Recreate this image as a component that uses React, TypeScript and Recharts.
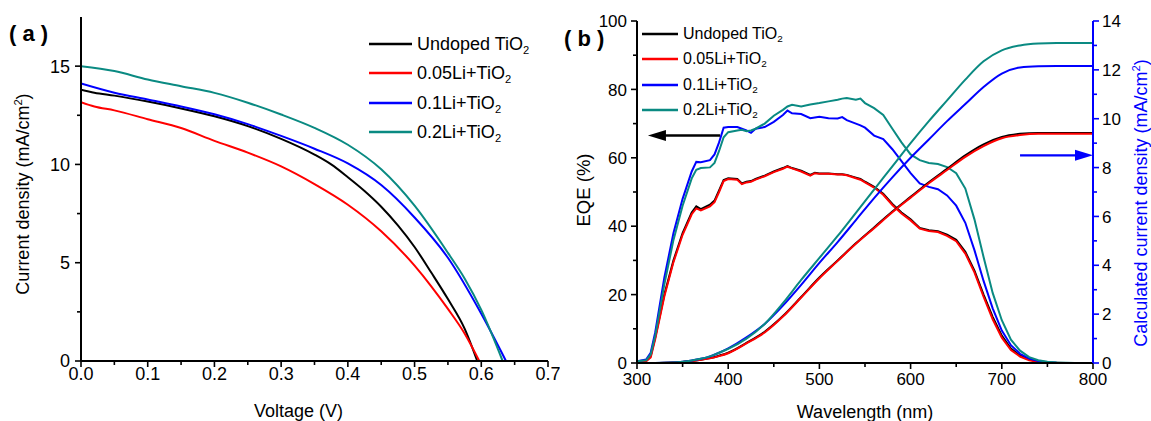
import React from "react";
import { LineChart, Line, XAxis, YAxis, Legend, ReferenceLine } from "recharts";

const FONT = '"Liberation Sans", Arial, Helvetica, sans-serif';

const SERIES = ["Undoped TiO2", "0.05Li+TiO2", "0.1Li+TiO2", "0.2Li+TiO2"];
const COLORS = ["#000000", "#ff0000", "#0000ff", "#0a8a82"];

// (a) J-V curves
const V_UNDOPED = [0, 0.02, 0.05, 0.1, 0.15, 0.2, 0.25, 0.3, 0.35, 0.375, 0.4, 0.425, 0.45, 0.475, 0.5, 0.525, 0.55, 0.575, 0.594];
const J_UNDOPED = [13.8, 13.65, 13.5, 13.2, 12.85, 12.45, 11.95, 11.3, 10.5, 10.0, 9.35, 8.65, 7.85, 6.9, 5.8, 4.5, 3.15, 1.65, 0];
const V_LI005 = [0, 0.02, 0.05, 0.1, 0.15, 0.2, 0.25, 0.3, 0.35, 0.4, 0.45, 0.5, 0.525, 0.55, 0.575, 0.597];
const J_LI005 = [13.17, 12.95, 12.75, 12.3, 11.85, 11.2, 10.6, 9.9, 9.0, 7.95, 6.6, 4.85, 3.8, 2.65, 1.4, 0];
const V_LI01 = [0, 0.05, 0.1, 0.15, 0.2, 0.25, 0.3, 0.35, 0.4, 0.45, 0.5, 0.55, 0.6, 0.637];
const J_LI01 = [14.12, 13.65, 13.3, 12.95, 12.55, 12.05, 11.45, 10.8, 10.05, 8.95, 7.3, 5.25, 2.4, 0];
const V_LI02 = [0, 0.05, 0.1, 0.15, 0.2, 0.25, 0.3, 0.35, 0.4, 0.45, 0.5, 0.55, 0.575, 0.6, 0.632];
const J_LI02 = [15.0, 14.75, 14.32, 13.98, 13.64, 13.14, 12.54, 11.86, 11.0, 9.75, 7.9, 5.5, 4.2, 2.6, 0];

const A_X_MAJOR = [0, 0.1, 0.2, 0.3, 0.4, 0.5, 0.6, 0.7];
const A_X_MINOR = [0.05, 0.15, 0.25, 0.35, 0.45, 0.55, 0.65];
const A_Y_MAJOR = [0, 5, 10, 15];
const A_Y_MINOR = [2.5, 7.5, 12.5];

// (b) EQE spectra
const WL = [300, 310, 315, 320, 330, 340, 350, 360, 365, 370, 380, 385, 390, 395, 400, 410, 415, 420, 425, 430, 440, 450, 460, 465, 470, 480, 490, 495, 500, 510, 520, 525, 530, 540, 545, 550, 560, 570, 580, 590, 600, 610, 620, 630, 640, 650, 660, 670, 680, 690, 700, 710, 720, 730, 740, 750, 760, 770, 780, 790, 800];
const EQE_UNDOPED = [0.5, 0.6, 2, 7.5, 20, 30, 38, 44, 45.8, 45, 46.3, 47.5, 50.5, 53.5, 54, 53.8, 52.5, 53, 53.2, 53.8, 54.8, 56, 57, 57.6, 57, 56.2, 55, 55.6, 55.4, 55.4, 55.2, 55.2, 55, 54.2, 53.8, 53, 51.5, 49.5, 46.5, 44, 42, 39.5, 38.8, 38.5, 37.5, 36, 32.5, 27, 20, 13.5, 8, 4.2, 2.2, 1, 0.4, 0.15, 0.05, 0, 0, 0, 0];
const EQE_LI005 = [0.5, 0.5, 1.6, 7, 19.5, 29.5, 37.5, 43.5, 45.2, 44.6, 45.8, 47, 50, 53.2, 53.8, 53.6, 52.3, 52.8, 53, 53.6, 54.6, 55.8, 56.8, 57.4, 56.9, 56, 54.8, 55.5, 55.3, 55.3, 55.1, 55.1, 54.9, 54, 53.6, 52.8, 51.3, 49.2, 46.2, 43.7, 41.7, 39.3, 38.6, 38.3, 37.2, 35.6, 32, 26.5, 19.4, 12.8, 7.4, 3.8, 1.9, 0.8, 0.3, 0.1, 0.03, 0, 0, 0, 0];
const EQE_LI01 = [0.5, 1, 3, 9, 25, 38, 48, 56, 58.8, 58.7, 59.3, 61, 64.5, 68.8, 69, 69, 68.5, 68, 67.3, 68.5, 69, 70.5, 72.5, 73.8, 73, 72.8, 71.6, 71.8, 72, 71.6, 71.5, 71.9, 71, 70, 69.5, 68.8, 66.5, 65.5, 62.5, 59, 55.5, 52.5, 51.5, 50.8, 49, 46, 41, 33, 24, 16, 9.5, 5.2, 2.7, 1.3, 0.6, 0.25, 0.1, 0.03, 0, 0, 0];
const EQE_LI02 = [0.5, 0.8, 2.5, 8, 23, 36, 46, 54, 56.5, 57, 57.2, 58.5, 62, 66, 67.5, 68, 68.2, 67.8, 68, 68.5, 70, 72.3, 74, 75, 75.5, 75, 75.6, 75.8, 76, 76.5, 77, 77.3, 77.5, 77, 77.3, 76, 74.5, 72.5, 68.5, 64.5, 61, 59.3, 58.5, 58.2, 57.3, 55.5, 51, 42, 31, 20.5, 12.5, 6.8, 3.6, 1.7, 0.8, 0.35, 0.15, 0.05, 0, 0, 0];

// (b) integrated current density
const JSC_WL = [300, 320, 340, 350, 360, 370, 380, 390, 400, 420, 440, 460, 480, 500, 520, 540, 560, 580, 600, 620, 640, 660, 680, 700, 720, 740, 760, 800];
const JSC_UNDOPED = [0, 0, 0.02, 0.04, 0.08, 0.13, 0.2, 0.3, 0.42, 0.82, 1.28, 1.92, 2.7, 3.5, 4.2, 4.9, 5.55, 6.2, 6.8, 7.4, 7.95, 8.5, 8.95, 9.25, 9.38, 9.42, 9.42, 9.42];
const JSC_LI005 = [0, 0, 0.02, 0.04, 0.08, 0.13, 0.19, 0.28, 0.4, 0.8, 1.25, 1.9, 2.68, 3.47, 4.18, 4.88, 5.52, 6.17, 6.77, 7.36, 7.9, 8.44, 8.88, 9.2, 9.33, 9.38, 9.38, 9.38];
const JSC_LI01 = [0, 0, 0.02, 0.05, 0.1, 0.17, 0.27, 0.42, 0.6, 1.05, 1.6, 2.35, 3.2, 4.1, 4.95, 5.85, 6.75, 7.6, 8.4, 9.15, 9.9, 10.6, 11.3, 11.85, 12.1, 12.15, 12.16, 12.16];
const JSC_LI02 = [0, 0, 0.02, 0.05, 0.1, 0.17, 0.27, 0.42, 0.58, 1.0, 1.6, 2.45, 3.4, 4.3, 5.2, 6.15, 7.1, 8.05, 9.0, 9.9, 10.75, 11.6, 12.35, 12.8, 13.0, 13.08, 13.1, 13.1];

const B_X_MAJOR = [300, 400, 500, 600, 700, 800];
const B_X_MINOR = [350, 450, 550, 650, 750];
const B_EQE_MAJOR = [0, 20, 40, 60, 80, 100];
const B_EQE_MINOR = [10, 30, 50, 70, 90];
const B_JSC_MAJOR = [0, 2, 4, 6, 8, 10, 12, 14];
const B_JSC_MINOR = [1, 3, 5, 7, 9, 11, 13];

// arrows: [from wavelength, to wavelength, level]
const ARROW_EQE = [391, 312, 66.5];
const ARROW_JSC = [720, 800, 8.5];

const merge = (a: number[], b: number[]) => [...a, ...b].sort((p, q) => p - q);
const zipJV = (v: number[], j: number[]) => v.map((x, i) => ({ v: x, j: j[i] }));
const zipWL = (w: number[], y: number[]) => w.map((x, i) => ({ w: x, y: y[i] }));

const withSub = (name: string) => (
  <>
    {name.slice(0, -1)}
    <sub style={{ fontSize: "0.62em", verticalAlign: "-0.35em", lineHeight: 0 }}>{name.slice(-1)}</sub>
  </>
);

type TickCfg = {
  side: "bottom" | "left" | "right";
  major: number[];
  fontSize: number;
  gap: number;
  tickColor?: string;
  digits?: number;
};

function makeTick(cfg: TickCfg) {
  return (props: any) => {
    const { x, y, payload } = props;
    const v = payload.value as number;
    const isMajor = cfg.major.some((m) => Math.abs(m - v) < 1e-6);
    const len = isMajor ? 6 : 4;
    const color = cfg.tickColor ?? "#000";
    const text = cfg.digits != null ? v.toFixed(cfg.digits) : String(v);
    if (cfg.side === "bottom") {
      return (
        <g>
          <line x1={x} y1={y} x2={x} y2={y + len} stroke={color} strokeWidth={1.6} />
          {isMajor && (
            <text x={x} y={y + 6 + cfg.gap} textAnchor="middle" fontSize={cfg.fontSize} fontFamily={FONT} fill="#000">
              {text}
            </text>
          )}
        </g>
      );
    }
    const dir = cfg.side === "left" ? -1 : 1;
    return (
      <g>
        <line x1={x} y1={y} x2={x + dir * len} y2={y} stroke={color} strokeWidth={1.6} />
        {isMajor && (
          <text
            x={x + dir * (6 + cfg.gap)}
            y={y}
            dy="0.36em"
            textAnchor={dir < 0 ? "end" : "start"}
            fontSize={cfg.fontSize}
            fontFamily={FONT}
            fill="#000"
          >
            {text}
          </text>
        )}
      </g>
    );
  };
}

const xTitle = (text: string, dx: number, dy: number) => (props: any) => {
  const vb = props.viewBox;
  return (
    <text x={vb.x + vb.width / 2 + dx} y={vb.y + dy} textAnchor="middle" fontSize={18} fontFamily={FONT} fill="#000">
      {text}
    </text>
  );
};

const yTitle = (text: string, sup: string, tail: string, bx: number, dy: number, color: string, size: number) => (props: any) => {
  const vb = props.viewBox;
  const cx = vb.x + bx;
  const cy = vb.y + vb.height / 2 + dy;
  return (
    <text transform={`translate(${cx},${cy}) rotate(-90)`} textAnchor="middle" fontSize={size} fontFamily={FONT} fill={color}>
      {text}
      {sup && (
        <tspan dy={-7} fontSize={size * 0.62}>
          {sup}
        </tspan>
      )}
      {sup && <tspan dy={7}>{tail}</tspan>}
    </text>
  );
};

const legendContent = (fontSize: number, rowH: number, lineW: number, gap: number) => (props: any) => {
  const items = (props.payload || [])
    .filter((e: any) => SERIES.indexOf(String(e.value)) >= 0)
    .sort((a: any, b: any) => SERIES.indexOf(String(a.value)) - SERIES.indexOf(String(b.value)));
  return (
    <div style={{ fontFamily: FONT, fontSize, color: "#000" }}>
      {items.map((e: any, i: number) => (
        <div key={i} style={{ display: "flex", alignItems: "center", height: rowH, whiteSpace: "nowrap" }}>
          <svg width={lineW} height={4} style={{ display: "block" }}>
            <line x1={0} y1={2} x2={lineW} y2={2} stroke={e.color} strokeWidth={2.4} />
          </svg>
          <span style={{ marginLeft: gap, lineHeight: 1 }}>{withSub(String(e.value))}</span>
        </div>
      ))}
    </div>
  );
};

const arrowShape = (color: string) => (p: any) => {
  const { x1, y1, x2, y2 } = p;
  const dir = Math.sign(x2 - x1) || 1;
  const head = 18;
  return (
    <g>
      <line x1={x1} y1={y1} x2={x2 - dir * head * 0.7} y2={y2} stroke={color} strokeWidth={2.4} />
      <polygon points={`${x2},${y2} ${x2 - dir * head},${y2 - 5.5} ${x2 - dir * head},${y2 + 5.5}`} fill={color} />
    </g>
  );
};

const axisStroke = { stroke: "#000", strokeWidth: 2 };

function PanelA() {
  const sets = [
    zipJV(V_UNDOPED, J_UNDOPED),
    zipJV(V_LI005, J_LI005),
    zipJV(V_LI01, J_LI01),
    zipJV(V_LI02, J_LI02),
  ];
  return (
    <LineChart width={560} height={421} margin={{ top: 17, right: 12, left: 0, bottom: 0 }}>
      <XAxis
        type="number"
        dataKey="v"
        domain={[0, 0.7]}
        allowDataOverflow
        ticks={merge(A_X_MAJOR, A_X_MINOR)}
        interval={0}
        tickLine={false}
        tickSize={0}
        tickMargin={0}
        height={60}
        axisLine={axisStroke}
        tick={makeTick({ side: "bottom", major: A_X_MAJOR, fontSize: 18, gap: 13, digits: 1 })}
        label={xTitle("Voltage (V)", -16, 56)}
      />
      <XAxis xAxisId="top" orientation="top" type="number" domain={[0, 0.7]} height={0} tick={false} tickLine={false} axisLine={axisStroke} />
      <YAxis
        type="number"
        domain={[0, 17.5]}
        allowDataOverflow
        ticks={merge(A_Y_MAJOR, A_Y_MINOR)}
        interval={0}
        tickLine={false}
        tickSize={0}
        tickMargin={0}
        width={81}
        axisLine={axisStroke}
        tick={makeTick({ side: "left", major: A_Y_MAJOR, fontSize: 18, gap: 5 })}
        label={yTitle("Current density (mA/cm", "2", ")", 29, 5, "#000", 18)}
      />
      <YAxis yAxisId="right" orientation="right" type="number" domain={[0, 1]} width={0} tick={false} tickLine={false} axisLine={axisStroke} />
      <Legend
        layout="vertical"
        align="center"
        verticalAlign="middle"
        wrapperStyle={{ left: 369, top: 29, width: "auto" }}
        content={legendContent(18, 29.5, 43, 5)}
      />
      {sets.map((d, i) => (
        <Line
          key={SERIES[i]}
          data={d}
          dataKey="j"
          name={SERIES[i]}
          type="monotone"
          stroke={COLORS[i]}
          strokeWidth={2}
          dot={false}
          isAnimationActive={false}
        />
      ))}
    </LineChart>
  );
}

function PanelB() {
  const eqe = [EQE_UNDOPED, EQE_LI005, EQE_LI01, EQE_LI02].map((s) => zipWL(WL, s));
  const jsc = [JSC_UNDOPED, JSC_LI005, JSC_LI01, JSC_LI02].map((s) => zipWL(JSC_WL, s));
  return (
    <LineChart width={591} height={421} margin={{ top: 21, right: 0, left: 0, bottom: 0 }}>
      <XAxis
        type="number"
        dataKey="w"
        domain={[300, 800]}
        allowDataOverflow
        ticks={merge(B_X_MAJOR, B_X_MINOR)}
        interval={0}
        tickLine={false}
        tickSize={0}
        tickMargin={0}
        height={58}
        axisLine={axisStroke}
        tick={makeTick({ side: "bottom", major: B_X_MAJOR, fontSize: 17, gap: 16 })}
        label={xTitle("Wavelength (nm)", 0, 55)}
      />
      <XAxis xAxisId="top" orientation="top" type="number" domain={[300, 800]} height={0} tick={false} tickLine={false} axisLine={axisStroke} />
      <YAxis
        yAxisId="eqe"
        type="number"
        domain={[0, 100]}
        allowDataOverflow
        ticks={merge(B_EQE_MAJOR, B_EQE_MINOR)}
        interval={0}
        tickLine={false}
        tickSize={0}
        tickMargin={0}
        width={77}
        axisLine={axisStroke}
        tick={makeTick({ side: "left", major: B_EQE_MAJOR, fontSize: 17, gap: 4 })}
        label={yTitle("EQE (%)", "", "", 30, -2, "#000", 18.5)}
      />
      <YAxis
        yAxisId="jsc"
        orientation="right"
        type="number"
        domain={[0, 14]}
        allowDataOverflow
        ticks={merge(B_JSC_MAJOR, B_JSC_MINOR)}
        interval={0}
        tickLine={false}
        tickSize={0}
        tickMargin={0}
        width={58}
        axisLine={{ stroke: "#0000ff", strokeWidth: 2 }}
        tick={makeTick({ side: "right", major: B_JSC_MAJOR, fontSize: 17, gap: 3, tickColor: "#0000ff" })}
        label={yTitle("Calculated current density (mA/cm", "2", ")", 54, 11, "#0000ff", 18)}
      />
      <Legend
        layout="vertical"
        align="center"
        verticalAlign="middle"
        wrapperStyle={{ left: 82, top: 21, width: "auto" }}
        content={legendContent(16, 25.5, 36, 5)}
      />
      {eqe.map((d, i) => (
        <Line
          key={"eqe" + i}
          yAxisId="eqe"
          data={d}
          dataKey="y"
          name={SERIES[i]}
          type="linear"
          stroke={COLORS[i]}
          strokeWidth={2}
          dot={false}
          isAnimationActive={false}
        />
      ))}
      {jsc.map((d, i) => (
        <Line
          key={"jsc" + i}
          yAxisId="jsc"
          data={d}
          dataKey="y"
          name={"Jsc " + i}
          legendType="none"
          type="monotone"
          stroke={COLORS[i]}
          strokeWidth={2}
          dot={false}
          isAnimationActive={false}
        />
      ))}
      <ReferenceLine
        yAxisId="eqe"
        segment={[
          { x: ARROW_EQE[0], y: ARROW_EQE[2] },
          { x: ARROW_EQE[1], y: ARROW_EQE[2] },
        ]}
        shape={arrowShape("#000")}
      />
      <ReferenceLine
        yAxisId="jsc"
        segment={[
          { x: ARROW_JSC[0], y: ARROW_JSC[2] },
          { x: ARROW_JSC[1], y: ARROW_JSC[2] },
        ]}
        shape={arrowShape("#0000ff")}
      />
    </LineChart>
  );
}

export default function App() {
  const tag = { position: "absolute" as const, fontFamily: FONT, fontWeight: 700, fontSize: 22, lineHeight: 1, whiteSpace: "pre" as const };
  return (
    <div style={{ position: "absolute", left: 0, top: 0, width: 1151, height: 421, background: "#fff", overflow: "hidden" }}>
      <div style={{ position: "absolute", left: 0, top: 0 }}>
        <PanelA />
      </div>
      <div style={{ position: "absolute", left: 560, top: 0 }}>
        <PanelB />
      </div>
      <div style={{ ...tag, left: 9, top: 23 }}>( a )</div>
      <div style={{ ...tag, left: 564, top: 28 }}>( b )</div>
    </div>
  );
}
